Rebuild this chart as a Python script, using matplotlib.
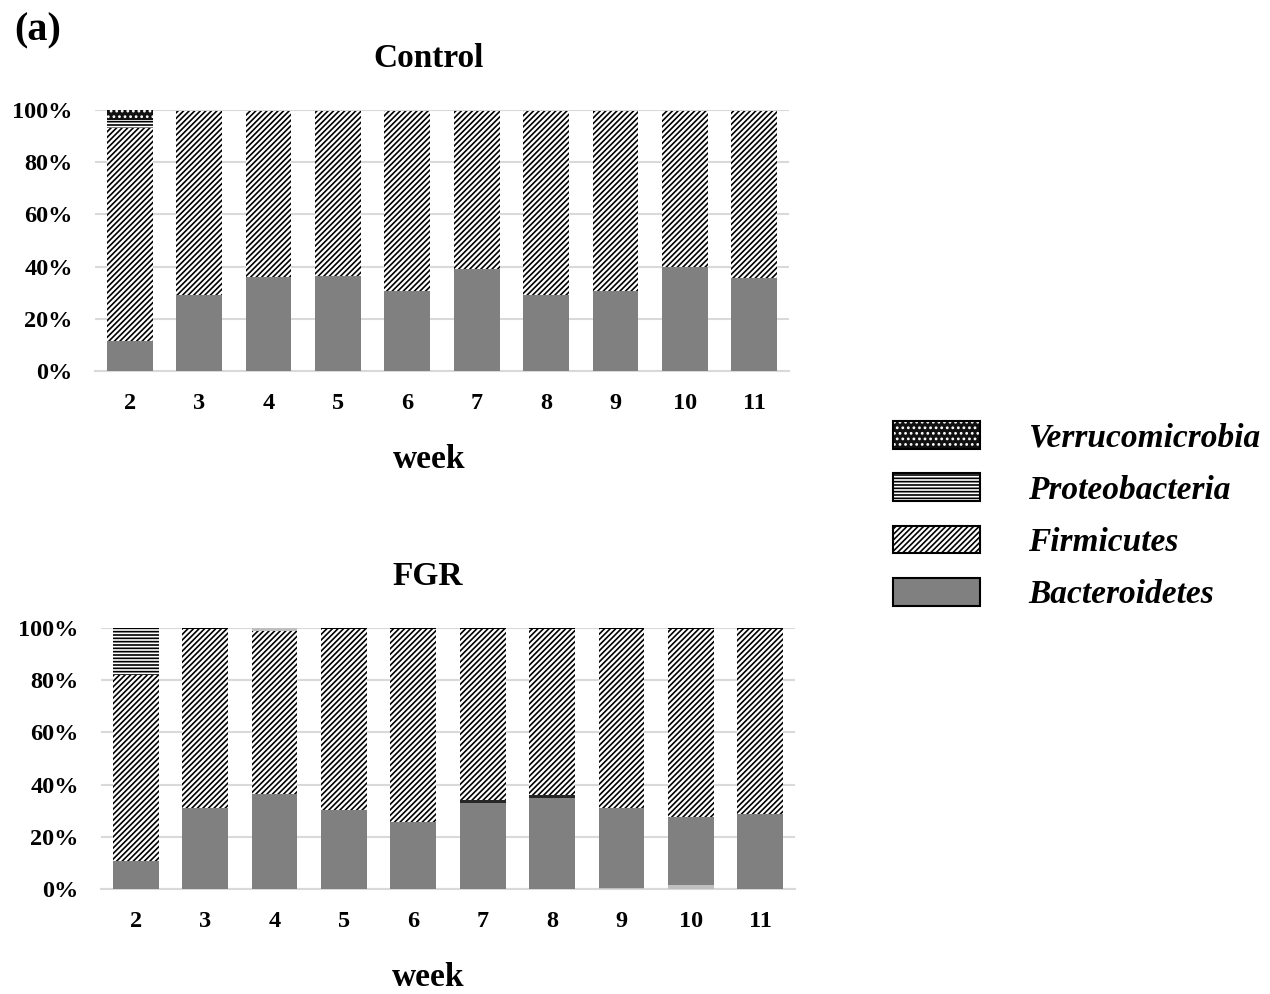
import numpy as np
import matplotlib
matplotlib.use('Agg')
import matplotlib.pyplot as plt
from matplotlib.patches import Patch
from matplotlib.legend_handler import HandlerTuple

plt.rcParams['font.family'] = ['Liberation Serif', 'DejaVu Serif']
plt.rcParams['font.weight'] = 'bold'
plt.rcParams['hatch.linewidth'] = 1.2

# data (percent)
weeks = ['2', '3', '4', '5', '6', '7', '8', '9', '10', '11']
phyla = ['Bacteroidetes', 'Firmicutes', 'Proteobacteria', 'Verrucomicrobia']

ctrl_bact = [11.5, 29.0, 36.0, 36.5, 30.5, 39.0, 29.0, 30.5, 40.0, 35.5]
ctrl_firm = [81.6, 70.7, 63.8, 63.1, 69.1, 60.6, 70.8, 69.2, 59.6, 64.2]
ctrl_prot = [3.1, 0.3, 0.2, 0.4, 0.4, 0.4, 0.2, 0.3, 0.4, 0.3]
ctrl_verr = [3.8, 0, 0, 0, 0, 0, 0, 0, 0, 0]

fgr_low = [0, 0, 0, 0, 0, 0, 0, 0.5, 1.5, 0]
fgr_bact = [10.7, 31.0, 36.4, 30.3, 25.7, 33.0, 34.9, 30.5, 26.1, 28.7]
fgr_dark = [0, 0, 0, 0, 0, 1.2, 1.0, 0, 0, 0]
fgr_firm = [71.3, 68.7, 62.6, 69.3, 73.9, 65.5, 63.7, 68.8, 72.0, 71.0]
fgr_prot = [18.0, 0.3, 0, 0.4, 0.4, 0.3, 0.4, 0.2, 0.4, 0.3]
fgr_top = [0, 0, 1.0, 0, 0, 0, 0, 0, 0, 0]

styles = {
    'Bacteroidetes': dict(color='#808080', hatch=None, hc='#808080'),
    'Firmicutes': dict(color='white', hatch='//////', hc='black'),
    'Proteobacteria': dict(color='white', hatch='-----', hc='black'),
    'Verrucomicrobia': dict(color='#111111', hatch='...', hc='white'),
    'low': dict(color='#bfbfbf', hatch=None, hc='#bfbfbf'),
    'dark': dict(color='#262626', hatch=None, hc='#262626'),
}

fig = plt.figure(figsize=(12.7, 9.94), dpi=100)
ax1 = fig.add_axes([95 / 1270, 1 - 371 / 994, 694 / 1270, 261 / 994])
ax2 = fig.add_axes([101 / 1270, 1 - 889 / 994, 694 / 1270, 261 / 994])

x = np.arange(len(weeks))


def stack(ax, series):
    bottom = np.zeros(len(weeks))
    for key, vals in series:
        st = styles[key]
        v = np.array(vals) / 100
        ax.bar(x, v, 0.66, bottom=bottom, color=st['color'], hatch=st['hatch'],
               edgecolor=st['hc'], linewidth=0, zorder=3)
        bottom += v


stack(ax1, [('Bacteroidetes', ctrl_bact), ('Firmicutes', ctrl_firm),
            ('Proteobacteria', ctrl_prot), ('Verrucomicrobia', ctrl_verr)])
stack(ax2, [('low', fgr_low), ('Bacteroidetes', fgr_bact), ('dark', fgr_dark),
            ('Firmicutes', fgr_firm), ('Proteobacteria', fgr_prot), ('low', fgr_top)])

for ax, title, tx in [(ax1, 'Control', 429), (ax2, 'FGR', 428)]:
    ax.set_xlim(-0.5, len(weeks) - 0.5)
    ax.set_ylim(0, 1)
    ax.set_xticks(x)
    ax.set_xticklabels(weeks)
    ax.set_yticks(np.arange(0, 1.01, 0.2))
    ax.set_yticklabels(['0%', '20%', '40%', '60%', '80%', '100%'])
    ax.tick_params(length=0, labelsize=17.5)
    ax.tick_params(axis='y', pad=16)
    ax.tick_params(axis='x', pad=16)
    ax.yaxis.grid(True, color='#d9d9d9', linewidth=1.5, zorder=0)
    ax.set_axisbelow(True)
    for s in ['left', 'right', 'top']:
        ax.spines[s].set_visible(False)
    ax.spines['bottom'].set_color('#d9d9d9')
    ax.spines['bottom'].set_linewidth(1.5)
    left = ax.get_position().x0 * 1270
    ax.set_title(title, fontsize=24, fontweight='bold', pad=31,
                 x=(tx - left) / 694)
    ax.set_xlabel('week', fontsize=24, fontweight='bold', va='center')
    ax.xaxis.set_label_coords((tx - left) / 694, -88 / 261)

fig.text(14 / 1270, 1 - 31 / 994, '(a)', fontsize=29, fontweight='bold',
         va='center', ha='left')

handles = []
for name in phyla[::-1]:
    st = styles[name]
    fill = Patch(facecolor=st['color'], hatch=st['hatch'], edgecolor=st['hc'], linewidth=0)
    border = Patch(facecolor='none', edgecolor='black', linewidth=1.5)
    handles.append((fill, border))
fig.legend(handles=handles, labels=phyla[::-1], handler_map={tuple: HandlerTuple(ndivide=1)},
           loc='upper left', bbox_to_anchor=(893 / 1270, 1 - 421 / 994),
           frameon=False, prop=dict(family='Liberation Serif', style='italic',
                                    weight='bold', size=24),
           handlelength=2.6, handleheight=0.9, handletextpad=1.45,
           labelspacing=0.6, borderpad=0, borderaxespad=0)

fig.savefig('out.png', dpi=100)
